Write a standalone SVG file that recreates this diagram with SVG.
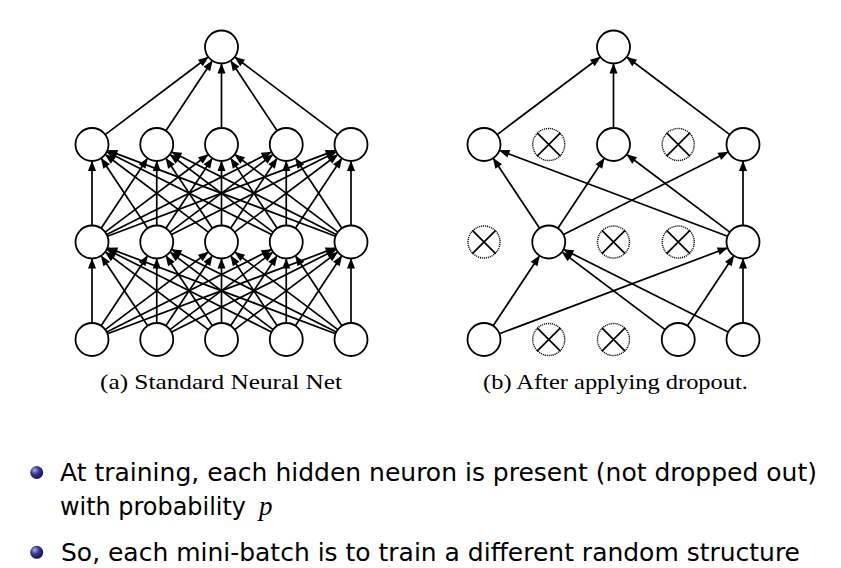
<svg xmlns="http://www.w3.org/2000/svg" width="841" height="568" viewBox="0 0 841 568">
<style>
.edge{fill:none;stroke:#000;stroke-width:1.7;marker-end:url(#arr)}
.n{fill:#fff;stroke:#000;stroke-width:1.8}
.d{fill:#fff;stroke:#000;stroke-width:1.4;stroke-dasharray:1.1 0.9}
.x{stroke:#000;stroke-width:1.7}
.cap{font-family:"Liberation Serif","Times New Roman",serif;font-size:22px;fill:#000}
.txt{font-family:"DejaVu Sans","Liberation Sans",sans-serif;font-size:25.5px;fill:#000}
.math{font-family:"Liberation Serif","Times New Roman",serif;font-style:italic;font-size:27px;fill:#000}
</style>
<defs>
<marker id="arr" viewBox="-11 -5 13 10" refX="0" refY="0" markerWidth="13" markerHeight="10" markerUnits="userSpaceOnUse" orient="auto">
<path d="M1.5,0 L-9,-4 L-9,4 Z" fill="#000"/>
</marker>
<radialGradient id="ball" cx="0.35" cy="0.32" r="0.7">
<stop offset="0" stop-color="#a9a9e0"/>
<stop offset="0.45" stop-color="#3a3a96"/>
<stop offset="1" stop-color="#15154a"/>
</radialGradient>
</defs>
<rect width="841" height="568" fill="#fff"/>
<g id="connectors">
<!-- (a) input -> hidden2 -->
<path class="edge" d="M92 323 L92 259.5"/>
<path class="edge" d="M101.13 325.76 L147.07 256.58"/>
<path class="edge" d="M105.18 329.58 L207.52 252.53"/>
<path class="edge" d="M106.75 332.1 L270.61 249.85"/>
<path class="edge" d="M107.44 333.69 L334.62 248.17"/>
<path class="edge" d="M147.62 325.76 L101.68 256.58"/>
<path class="edge" d="M156.75 323 L156.75 259.5"/>
<path class="edge" d="M165.88 325.76 L211.82 256.58"/>
<path class="edge" d="M169.93 329.58 L272.27 252.53"/>
<path class="edge" d="M171.5 332.1 L335.36 249.85"/>
<path class="edge" d="M208.32 329.58 L105.98 252.53"/>
<path class="edge" d="M212.37 325.76 L166.43 256.58"/>
<path class="edge" d="M221.5 323 L221.5 259.5"/>
<path class="edge" d="M230.63 325.76 L276.57 256.58"/>
<path class="edge" d="M234.68 329.58 L337.02 252.53"/>
<path class="edge" d="M271.5 332.1 L107.64 249.85"/>
<path class="edge" d="M273.07 329.58 L170.73 252.53"/>
<path class="edge" d="M277.12 325.76 L231.18 256.58"/>
<path class="edge" d="M286.25 323 L286.25 259.5"/>
<path class="edge" d="M295.38 325.76 L341.32 256.58"/>
<path class="edge" d="M335.56 333.69 L108.38 248.17"/>
<path class="edge" d="M336.25 332.1 L172.39 249.85"/>
<path class="edge" d="M337.82 329.58 L235.48 252.53"/>
<path class="edge" d="M341.87 325.76 L295.93 256.58"/>
<path class="edge" d="M351 323 L351 259.5"/>
<!-- (a) hidden2 -> hidden1 -->
<path class="edge" d="M92 225.5 L92 162"/>
<path class="edge" d="M101.13 228.26 L147.07 159.08"/>
<path class="edge" d="M105.18 232.08 L207.52 155.03"/>
<path class="edge" d="M106.75 234.6 L270.61 152.35"/>
<path class="edge" d="M107.44 236.19 L334.62 150.67"/>
<path class="edge" d="M147.62 228.26 L101.68 159.08"/>
<path class="edge" d="M156.75 225.5 L156.75 162"/>
<path class="edge" d="M165.88 228.26 L211.82 159.08"/>
<path class="edge" d="M169.93 232.08 L272.27 155.03"/>
<path class="edge" d="M171.5 234.6 L335.36 152.35"/>
<path class="edge" d="M208.32 232.08 L105.98 155.03"/>
<path class="edge" d="M212.37 228.26 L166.43 159.08"/>
<path class="edge" d="M221.5 225.5 L221.5 162"/>
<path class="edge" d="M230.63 228.26 L276.57 159.08"/>
<path class="edge" d="M234.68 232.08 L337.02 155.03"/>
<path class="edge" d="M271.5 234.6 L107.64 152.35"/>
<path class="edge" d="M273.07 232.08 L170.73 155.03"/>
<path class="edge" d="M277.12 228.26 L231.18 159.08"/>
<path class="edge" d="M286.25 225.5 L286.25 162"/>
<path class="edge" d="M295.38 228.26 L341.32 159.08"/>
<path class="edge" d="M335.56 236.19 L108.38 150.67"/>
<path class="edge" d="M336.25 234.6 L172.39 152.35"/>
<path class="edge" d="M337.82 232.08 L235.48 155.03"/>
<path class="edge" d="M341.87 228.26 L295.93 159.08"/>
<path class="edge" d="M351 225.5 L351 162"/>
<!-- (a) hidden1 -> output -->
<path class="edge" d="M105.18 134.58 L207.52 57.53"/>
<path class="edge" d="M165.88 130.76 L211.82 61.58"/>
<path class="edge" d="M221.5 128 L221.5 64.5"/>
<path class="edge" d="M277.12 130.76 L231.18 61.58"/>
<path class="edge" d="M337.82 134.58 L235.48 57.53"/>
<!-- (b) hidden1 -> output -->
<path class="edge" d="M497.18 134.58 L599.52 57.53"/>
<path class="edge" d="M613.5 128 L613.5 64.5"/>
<path class="edge" d="M729.82 134.58 L627.48 57.53"/>
<!-- (b) hidden2 -> hidden1 -->
<path class="edge" d="M539.62 228.26 L493.68 159.08"/>
<path class="edge" d="M557.88 228.26 L603.82 159.08"/>
<path class="edge" d="M563.5 234.6 L727.36 152.35"/>
<path class="edge" d="M727.56 236.19 L500.38 150.67"/>
<path class="edge" d="M729.82 232.08 L627.48 155.03"/>
<path class="edge" d="M743 225.5 L743 162"/>
<!-- (b) input -> hidden2 -->
<path class="edge" d="M493.13 325.76 L539.07 256.58"/>
<path class="edge" d="M499.44 333.69 L726.62 248.17"/>
<path class="edge" d="M665.07 329.58 L562.73 252.53"/>
<path class="edge" d="M687.38 325.76 L733.32 256.58"/>
<path class="edge" d="M728.25 332.1 L564.39 249.85"/>
<path class="edge" d="M743 323 L743 259.5"/>
</g>
<!-- (a) nodes -->
<g id="a_out"><circle class="n" cx="221.5" cy="47" r="16.5"/></g>
<g id="a_h1_0"><circle class="n" cx="92" cy="144.5" r="16.5"/></g>
<g id="a_h1_1"><circle class="n" cx="156.75" cy="144.5" r="16.5"/></g>
<g id="a_h1_2"><circle class="n" cx="221.5" cy="144.5" r="16.5"/></g>
<g id="a_h1_3"><circle class="n" cx="286.25" cy="144.5" r="16.5"/></g>
<g id="a_h1_4"><circle class="n" cx="351" cy="144.5" r="16.5"/></g>
<g id="a_h2_0"><circle class="n" cx="92" cy="242" r="16.5"/></g>
<g id="a_h2_1"><circle class="n" cx="156.75" cy="242" r="16.5"/></g>
<g id="a_h2_2"><circle class="n" cx="221.5" cy="242" r="16.5"/></g>
<g id="a_h2_3"><circle class="n" cx="286.25" cy="242" r="16.5"/></g>
<g id="a_h2_4"><circle class="n" cx="351" cy="242" r="16.5"/></g>
<g id="a_in_0"><circle class="n" cx="92" cy="339.5" r="16.5"/></g>
<g id="a_in_1"><circle class="n" cx="156.75" cy="339.5" r="16.5"/></g>
<g id="a_in_2"><circle class="n" cx="221.5" cy="339.5" r="16.5"/></g>
<g id="a_in_3"><circle class="n" cx="286.25" cy="339.5" r="16.5"/></g>
<g id="a_in_4"><circle class="n" cx="351" cy="339.5" r="16.5"/></g>
<!-- (b) nodes -->
<g id="b_out"><circle class="n" cx="613.5" cy="47" r="16.5"/></g>
<g id="b_h1_0"><circle class="n" cx="484" cy="144.5" r="16.5"/></g>
<g id="b_h1_1"><circle class="d" cx="548.75" cy="144.5" r="16"/><path class="x" d="M537.1 132.9 L560.4 156.1 M560.4 132.9 L537.1 156.1"/></g>
<g id="b_h1_2"><circle class="n" cx="613.5" cy="144.5" r="16.5"/></g>
<g id="b_h1_3"><circle class="d" cx="678.25" cy="144.5" r="16"/><path class="x" d="M666.6 132.9 L689.9 156.1 M689.9 132.9 L666.6 156.1"/></g>
<g id="b_h1_4"><circle class="n" cx="743" cy="144.5" r="16.5"/></g>
<g id="b_h2_0"><circle class="d" cx="484" cy="242" r="16"/><path class="x" d="M472.4 230.4 L495.6 253.6 M495.6 230.4 L472.4 253.6"/></g>
<g id="b_h2_1"><circle class="n" cx="548.75" cy="242" r="16.5"/></g>
<g id="b_h2_2"><circle class="d" cx="613.5" cy="242" r="16"/><path class="x" d="M601.9 230.4 L625.1 253.6 M625.1 230.4 L601.9 253.6"/></g>
<g id="b_h2_3"><circle class="d" cx="678.25" cy="242" r="16"/><path class="x" d="M666.6 230.4 L689.9 253.6 M689.9 230.4 L666.6 253.6"/></g>
<g id="b_h2_4"><circle class="n" cx="743" cy="242" r="16.5"/></g>
<g id="b_in_0"><circle class="n" cx="484" cy="339.5" r="16.5"/></g>
<g id="b_in_1"><circle class="d" cx="548.75" cy="339.5" r="16"/><path class="x" d="M537.1 327.9 L560.4 351.1 M560.4 327.9 L537.1 351.1"/></g>
<g id="b_in_2"><circle class="d" cx="613.5" cy="339.5" r="16"/><path class="x" d="M601.9 327.9 L625.1 351.1 M625.1 327.9 L601.9 351.1"/></g>
<g id="b_in_3"><circle class="n" cx="678.25" cy="339.5" r="16.5"/></g>
<g id="b_in_4"><circle class="n" cx="743" cy="339.5" r="16.5"/></g>
<!-- captions -->
<text class="cap" x="100" y="389" textLength="242" lengthAdjust="spacingAndGlyphs">(a) Standard Neural Net</text>
<text class="cap" x="483" y="389" textLength="265" lengthAdjust="spacingAndGlyphs">(b) After applying dropout.</text>
<!-- bullets -->
<circle cx="36.7" cy="472.5" r="6.5" fill="url(#ball)"/>
<text class="txt" x="60" y="481" textLength="757" lengthAdjust="spacingAndGlyphs">At training, each hidden neuron is present (not dropped out)</text>
<text class="txt" x="60" y="515" textLength="186" lengthAdjust="spacingAndGlyphs">with probability</text>
<text class="math" x="259" y="515">p</text>
<circle cx="36.7" cy="552.3" r="6.5" fill="url(#ball)"/>
<text class="txt" x="61" y="560.5" textLength="739" lengthAdjust="spacingAndGlyphs">So, each mini-batch is to train a different random structure</text>
</svg>
